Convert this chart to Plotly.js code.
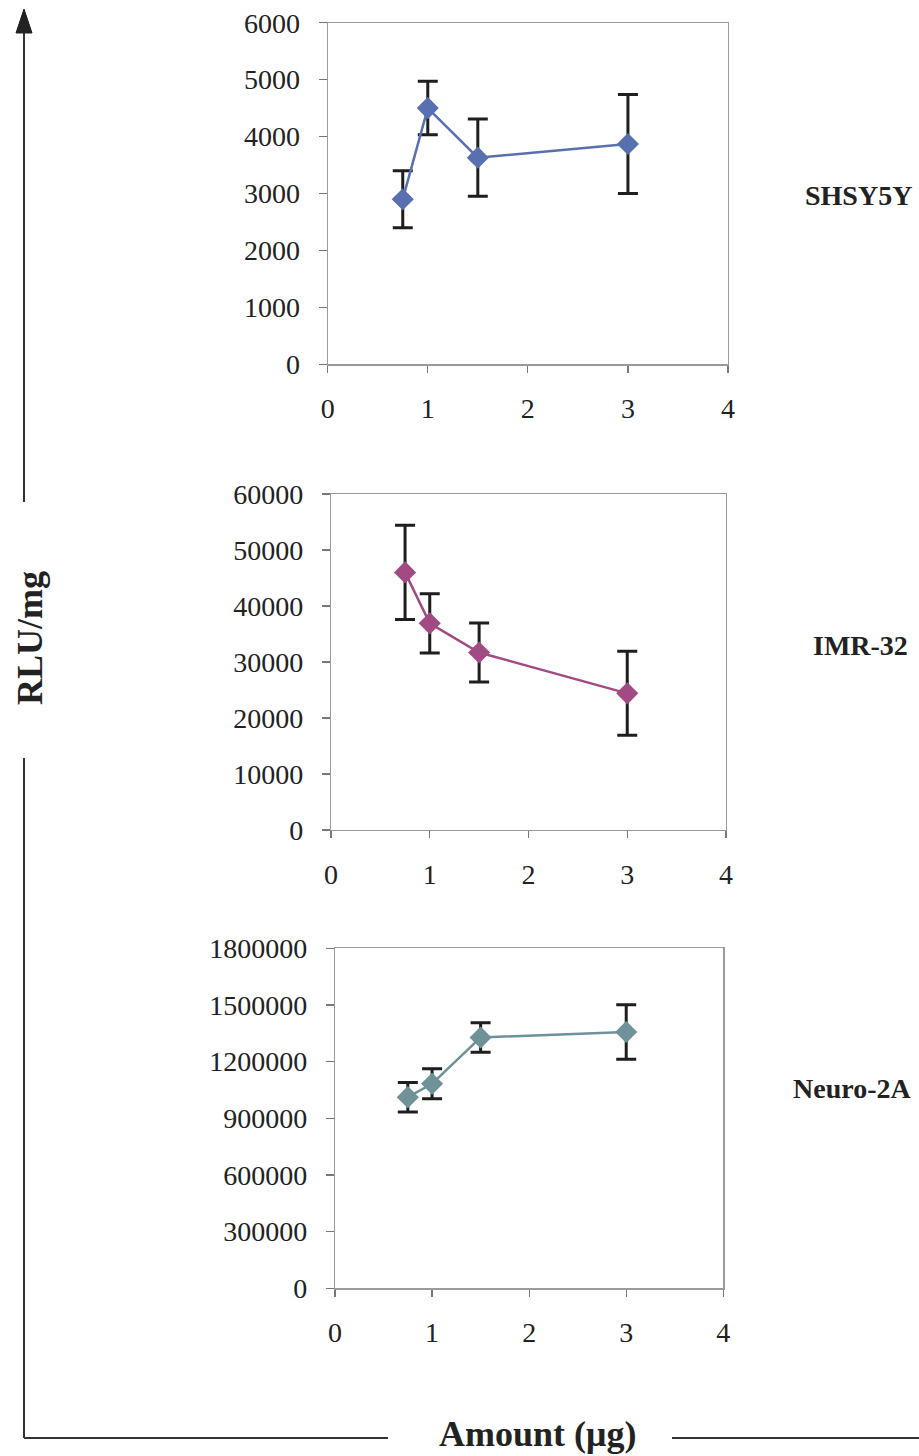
<!DOCTYPE html>
<html>
<head>
<meta charset="utf-8">
<script src="https://cdn.plot.ly/plotly-3.0.1.min.js"></script>
<style>html,body{margin:0;padding:0;background:#fff;}#chart{width:919px;height:1456px;}</style>
</head>
<body>
<div id="chart"></div>
<script>
// ---- data ----
const amounts = [0.75, 1, 1.5, 3];
const cellLines = ["SHSY5Y", "IMR-32", "Neuro-2A"];
const shsy5yMean = [2900, 4500, 3630, 3870];
const shsy5yErr  = [500, 470, 680, 870];
const imr32Mean  = [46000, 36900, 31700, 24400];
const imr32Err   = [8400, 5300, 5250, 7500];
const neuroMean  = [1012000, 1083000, 1328000, 1357000];
const neuroErr   = [78000, 79000, 78000, 144000];
const xTicks = [0, 1, 2, 3, 4];
const yTicks1 = [0, 1000, 2000, 3000, 4000, 5000, 6000];
const yTicks2 = [0, 10000, 20000, 30000, 40000, 50000, 60000];
const yTicks3 = [0, 300000, 600000, 900000, 1200000, 1500000, 1800000];
const yAxisTitle = "RLU/mg";
const xAxisTitle = "Amount (μg)";

// ---- styling ----
const W = 919, H = 1456;
const colors = ["#5870b0", "#a24a83", "#6f9298"];
const serif = "Liberation Serif, Times New Roman, serif";
const px = v => v / W;
const py = v => 1 - v / H;

function trace(mean, err, color, i) {
  const s = i === 0 ? "" : String(i + 1);
  return {
    x: amounts, y: mean, type: "scatter", mode: "lines+markers",
    xaxis: "x" + s, yaxis: "y" + s,
    line: {color: color, width: 2.5},
    marker: {symbol: "diamond", size: 17, color: color},
    error_y: {type: "data", array: err, visible: true, color: "#1e1e1e", thickness: 3, width: 10},
    showlegend: false, hoverinfo: "x+y"
  };
}

const data = [
  trace(shsy5yMean, shsy5yErr, colors[0], 0),
  trace(imr32Mean, imr32Err, colors[1], 1),
  trace(neuroMean, neuroErr, colors[2], 2)
];

// panel boxes in pixels: [left, right, top, bottom]
const boxes = [
  [327.7, 728, 22.7, 364.3],
  [331, 726, 494, 830],
  [335, 723.3, 948.3, 1288.3]
];
const yTickSets = [yTicks1, yTicks2, yTicks3];

const layout = {
  width: W, height: H,
  margin: {l: 0, r: 0, t: 0, b: 0},
  paper_bgcolor: "#fff", plot_bgcolor: "#fff",
  font: {family: serif, color: "#222", size: 28},
  shapes: [], annotations: []
};

boxes.forEach((b, i) => {
  const s = i === 0 ? "" : String(i + 1);
  const yt = yTickSets[i];
  layout["xaxis" + s] = {
    domain: [px(b[0]), px(b[1])], anchor: "y" + s,
    range: [0, 4], tickvals: xTicks, ticktext: xTicks.map(String),
    showgrid: false, zeroline: false, showline: true, mirror: true,
    linecolor: "#9a9a9a", linewidth: 1.2,
    ticks: "outside", ticklen: 7, tickcolor: "#777", tickwidth: 1.2,
    ticklabelstandoff: 12,
    tickfont: {family: serif, size: 28, color: "#222"}, fixedrange: true
  };
  layout["yaxis" + s] = {
    domain: [py(b[3]), py(b[2])], anchor: "x" + s,
    range: [0, yt[yt.length - 1]], tickvals: yt, ticktext: yt.map(String),
    showgrid: false, zeroline: false, showline: true, mirror: true,
    linecolor: "#9a9a9a", linewidth: 1.2,
    ticks: "outside", ticklen: 8, tickcolor: "#777", tickwidth: 1.2,
    ticklabelstandoff: 13,
    tickfont: {family: serif, size: 28, color: "#222"}, fixedrange: true
  };
});

// right-side cell line labels
const labelPos = [[858, 196], [860, 645], [852, 1088]];
cellLines.forEach((name, i) => {
  layout.annotations.push({
    text: "<b>" + name + "</b>", xref: "paper", yref: "paper",
    x: px(labelPos[i][0]), y: py(labelPos[i][1]), xanchor: "center", yanchor: "middle",
    showarrow: false, font: {family: serif, size: 28, color: "#222"}
  });
});

// shared axis titles
layout.annotations.push({
  text: "<b>" + yAxisTitle + "</b>", xref: "paper", yref: "paper",
  x: px(30), y: py(638), xanchor: "center", yanchor: "middle", textangle: -90,
  showarrow: false, font: {family: serif, size: 36, color: "#222"}
});
layout.annotations.push({
  text: "<b>" + xAxisTitle + "</b>", xref: "paper", yref: "paper",
  x: px(537), y: py(1434), xanchor: "center", yanchor: "middle",
  showarrow: false, font: {family: serif, size: 36, color: "#222"}
});

// decorative frame lines and arrowhead
const ln = {color: "#333", width: 2};
layout.shapes.push(
  {type: "line", xref: "paper", yref: "paper", x0: px(24), x1: px(24), y0: py(28), y1: py(502), line: ln},
  {type: "line", xref: "paper", yref: "paper", x0: px(24), x1: px(24), y0: py(758), y1: py(1438), line: ln},
  {type: "line", xref: "paper", yref: "paper", x0: px(24), x1: px(388), y0: py(1438), y1: py(1438), line: ln},
  {type: "line", xref: "paper", yref: "paper", x0: px(672), x1: px(919), y0: py(1438), y1: py(1438), line: ln},
  {type: "path", xref: "paper", yref: "paper",
   path: "M " + px(24) + " " + py(9) + " L " + px(16) + " " + py(33) + " L " + px(32) + " " + py(33) + " Z",
   fillcolor: "#222", line: {color: "#222", width: 1}}
);

Plotly.newPlot("chart", data, layout, {displayModeBar: false, staticPlot: true});
</script>
</body>
</html>
